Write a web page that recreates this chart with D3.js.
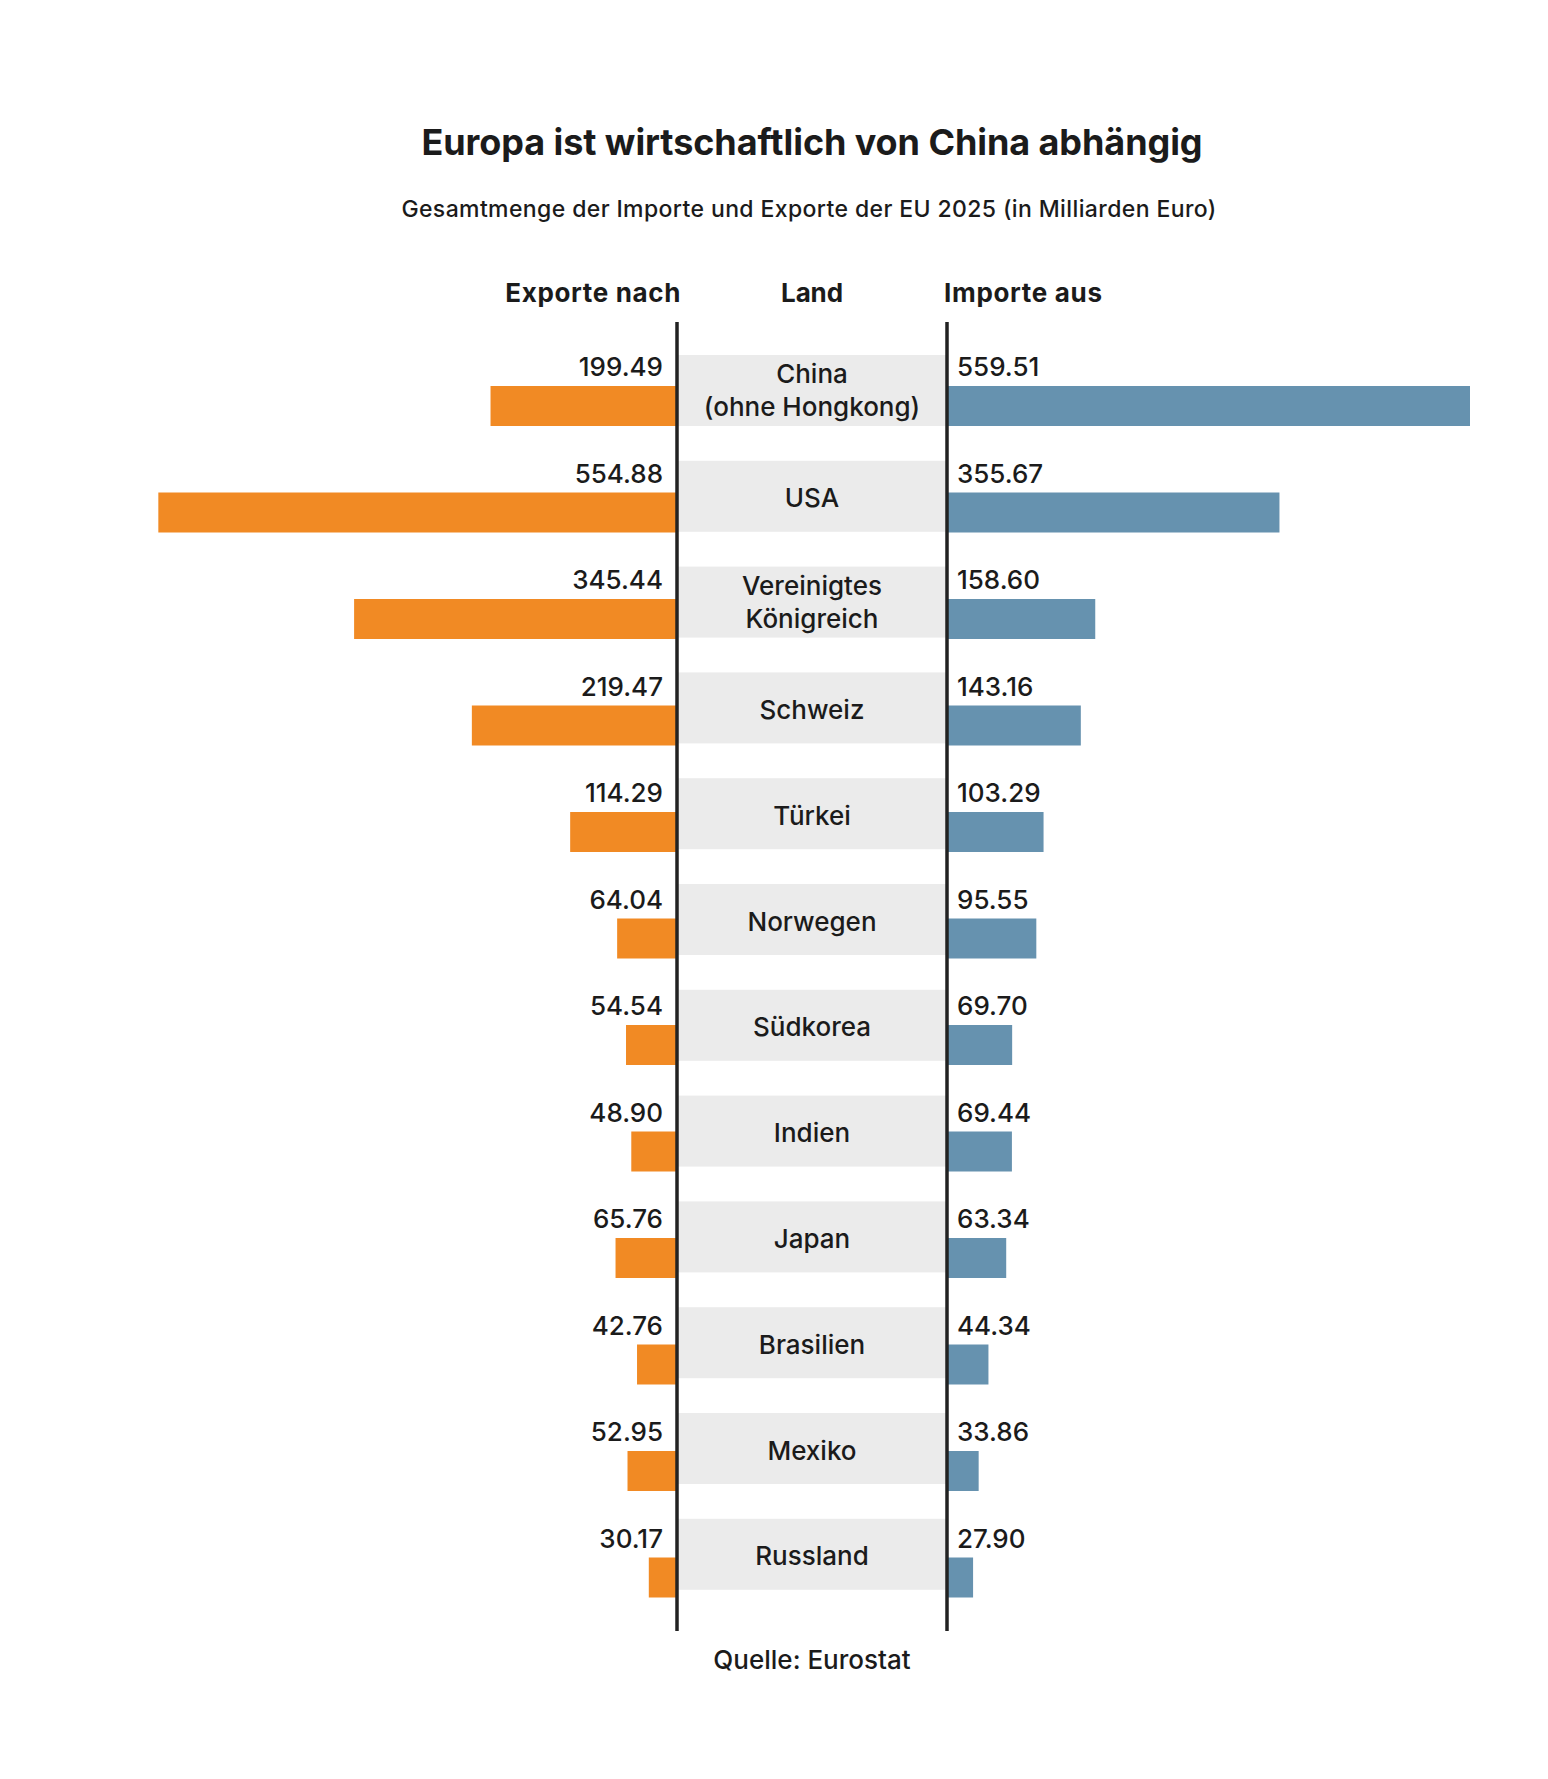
<!DOCTYPE html>
<html><head><meta charset="utf-8">
<script src="https://cdn.jsdelivr.net/npm/d3@7"></script>
<style>
html,body{margin:0;padding:0;background:#fff;}
svg text{font-family:Inter,"Noto Sans",sans-serif;fill:#1b1b1b;}
</style></head>
<body><svg id="chart" width="1548" height="1779"></svg>
<script>
const countries = ["China\n(ohne Hongkong)","USA","Vereinigtes\nKönigreich","Schweiz","Türkei","Norwegen","Südkorea","Indien","Japan","Brasilien","Mexiko","Russland"];
const exportsTo = [199.49,554.88,345.44,219.47,114.29,64.04,54.54,48.90,65.76,42.76,52.95,30.17];
const importsFrom = [559.51,355.67,158.60,143.16,103.29,95.55,69.70,69.44,63.34,44.34,33.86,27.90];
const titleText = "Europa ist wirtschaftlich von China abhängig";
const subtitleText = "Gesamtmenge der Importe und Exporte der EU 2025 (in Milliarden Euro)";
const headers = ["Exporte nach","Land","Importe aus"];
const sourceText = "Quelle: Eurostat";

const svg = d3.select("#chart");
const leftLine = 677, rightLine = 947, mid = (leftLine+rightLine)/2;
const orange = "#F18A24", blue = "#6692AF", grey = "#EBEBEB";

const x = d3.scaleLinear().domain([0, 559.51]).range([0, 523]);
const yBox = d3.scaleBand().domain(countries).range([355, 355 + 12*105.8]).padding(0);
const yBar = d3.scaleBand().domain(countries).range([386, 386 + 12*106.5]).padding(0);
const boxH = 71, barH = 40;

function fit(sel, w){
  sel.each(function(){
    const len = this.getComputedTextLength();
    const n = this.textContent.length;
    if (n > 1) d3.select(this).attr("letter-spacing", ((w - len)/(n-1)).toFixed(2));
  });
}

// title
svg.append("text").attr("x", mid).attr("y", 155).attr("text-anchor","middle")
  .attr("font-size", 36).attr("font-weight", 700).text(titleText).call(fit, 781);
svg.append("text").attr("x", mid-3).attr("y", 217).attr("text-anchor","middle")
  .attr("font-size", 23).attr("font-weight", 500).text(subtitleText).call(fit, 815);

// headers
svg.append("text").attr("x", 681).attr("y", 302).attr("text-anchor","end")
  .attr("font-size", 26).attr("font-weight", 700).text(headers[0]).call(fit, 175);
svg.append("text").attr("x", mid).attr("y", 302).attr("text-anchor","middle")
  .attr("font-size", 26).attr("font-weight", 700).text(headers[1]).call(fit, 62);
svg.append("text").attr("x", 944).attr("y", 302).attr("text-anchor","start")
  .attr("font-size", 26).attr("font-weight", 700).text(headers[2]).call(fit, 158);

const rows = countries.map((c,i)=>({c, ex: exportsTo[i], im: importsFrom[i]}));

// grey boxes
svg.append("g").selectAll("rect").data(rows).join("rect")
  .attr("x", leftLine).attr("width", rightLine-leftLine)
  .attr("y", d=>yBox(d.c)).attr("height", boxH).attr("fill", grey);

// export bars
svg.append("g").selectAll("rect").data(rows).join("rect")
  .attr("x", d=>leftLine - x(d.ex)).attr("width", d=>x(d.ex))
  .attr("y", d=>yBar(d.c)).attr("height", barH).attr("fill", orange);
// import bars
svg.append("g").selectAll("rect").data(rows).join("rect")
  .attr("x", rightLine).attr("width", d=>x(d.im))
  .attr("y", d=>yBar(d.c)).attr("height", barH).attr("fill", blue);

// value labels
svg.append("g").selectAll("text").data(rows).join("text")
  .attr("x", leftLine-14).attr("y", d=>yBar(d.c)-10).attr("text-anchor","end")
  .attr("font-size", 26).attr("font-weight", 500).text(d=>d.ex.toFixed(2));
svg.append("g").selectAll("text").data(rows).join("text")
  .attr("x", rightLine+10).attr("y", d=>yBar(d.c)-10).attr("text-anchor","start")
  .attr("font-size", 26).attr("font-weight", 500).text(d=>d.im.toFixed(2));

// country labels
const cl = svg.append("g").selectAll("text").data(rows).join("text")
  .attr("text-anchor","middle").attr("font-size", 26).attr("font-weight", 500);
cl.each(function(d){
  const lines = d.c.split("\n");
  const cy = yBox(d.c) + boxH/2;
  const t = d3.select(this);
  const base = lines.length > 1 ? 9 : 11;
  lines.forEach((ln,k)=>{
    t.append("tspan").attr("x", mid).attr("y", cy + base + (k-(lines.length-1)/2)*33).text(ln);
  });
});

// vertical lines
[leftLine, rightLine].forEach(lx=>{
  svg.append("line").attr("x1", lx).attr("x2", lx).attr("y1", 322).attr("y2", 1631)
    .attr("stroke", "#222").attr("stroke-width", 3.5);
});

// source
svg.append("text").attr("x", mid).attr("y", 1669).attr("text-anchor","middle")
  .attr("font-size", 26).attr("font-weight", 500).text(sourceText);
</script></body></html>
